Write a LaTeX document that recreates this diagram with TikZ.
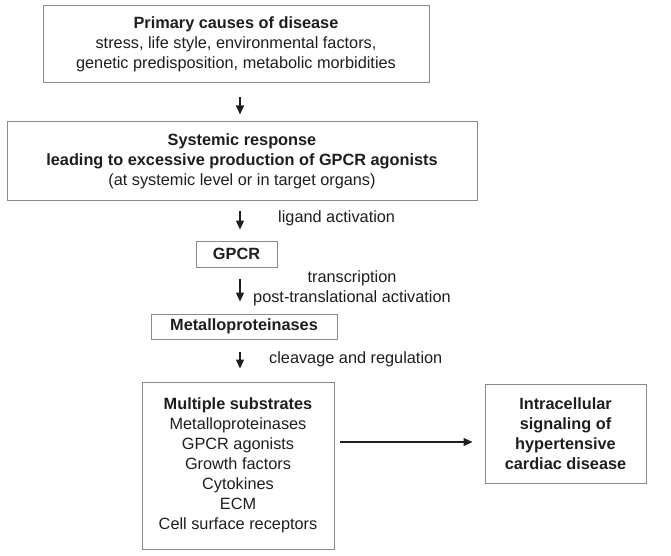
\documentclass[tikz,border=0pt]{standalone}
\usepackage{fontspec}
\setmainfont{Liberation Sans}
\usetikzlibrary{arrows.meta}
\definecolor{txt}{HTML}{1E1E1E}
\definecolor{bord}{HTML}{8A8A8A}
\begin{document}
\begin{tikzpicture}[x=1pt,y=-1pt,
  box/.style={draw=bord,line width=1pt,rectangle,inner sep=0pt,align=center,text=txt,
    font=\fontsize{16.3}{20}\selectfont},
  lbl/.style={text=txt,inner sep=0pt,font=\fontsize{16.3}{20}\selectfont,align=center},
  arr/.style={draw=txt,line width=1.1pt,-{Triangle[length=9pt,width=8pt]}}]
\useasboundingbox (0,0) rectangle (671,556);
\coordinate (axis) at (240,0);
\node[box,minimum width=386pt,minimum height=77pt] (top) at (236,44.5)
  {\textbf{Primary causes of disease}\\stress, life style, environmental factors,\\genetic predisposition, metabolic morbidities};
\node[box,minimum width=470pt,minimum height=78pt] (sys) at (242,161)
  {\textbf{Systemic response}\\\textbf{leading to excessive production of GPCR agonists}\\(at systemic level or in target organs)};
\node[box,minimum width=81pt,minimum height=26pt] (gpcr) at (236.5,254) {\textbf{GPCR}};
\node[box,minimum width=186pt,minimum height=25pt] (mmp) at (244,326.5) {\textbf{Metalloproteinases}};
\node[box,minimum width=192pt,minimum height=167pt] (sub) at (238,465.5)
  {\textbf{Multiple substrates}\\Metalloproteinases\\GPCR agonists\\Growth factors\\Cytokines\\ECM\\Cell surface receptors};
\node[box,minimum width=161pt,minimum height=99pt] (ics) at (565.5,433.5)
  {\textbf{Intracellular}\\\textbf{signaling of}\\\textbf{hypertensive}\\\textbf{cardiac disease}};
\draw[arr,shorten <=14pt,shorten >=7pt] (top.south -| axis) -- (sys.north -| axis);
\draw[arr,shorten <=10pt,shorten >=11pt] (sys.south -| axis) -- (gpcr.north -| axis);
\draw[arr,shorten <=11pt,shorten >=12pt] (gpcr.south -| axis) -- (mmp.north -| axis);
\draw[arr,shorten <=12pt,shorten >=13pt] (mmp.south -| axis) -- (sub.north -| axis);
\coordinate (hy) at (0,442);
\draw[arr,shorten <=5pt,shorten >=12pt] (sub.east |- hy) -- (ics.west |- hy);
\node[lbl,anchor=west] (l1) at (278,218) {ligand activation};
\node[lbl] (l2) at (352,278) {transcription};
\node[lbl,anchor=west] (l3) at (253,298) {post-translational activation};
\node[lbl,anchor=west] (l4) at (269,359) {cleavage and regulation};
\end{tikzpicture}
\end{document}
